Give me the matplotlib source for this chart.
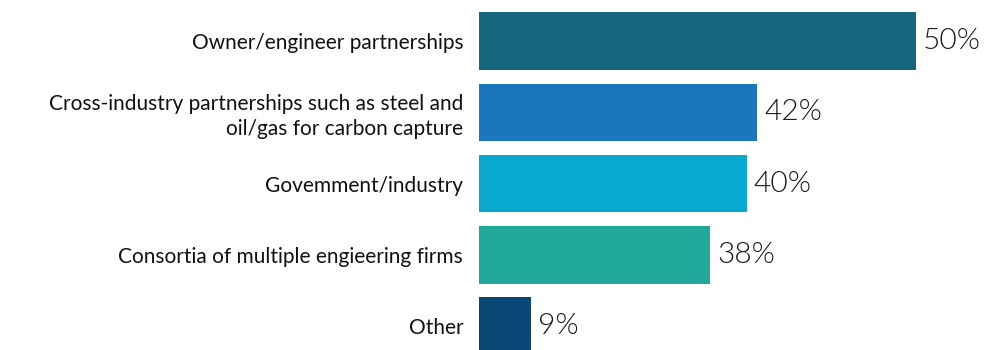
import matplotlib
matplotlib.use('Agg')
import matplotlib.pyplot as plt

plt.rcParams['font.family'] = ['Lato', 'DejaVu Sans']

categories = ['Owner/engineer partnerships',
              'Cross-industry partnerships such as steel and\noil/gas for carbon capture',
              'Govemment/industry',
              'Consortia of multiple engieering firms',
              'Other']
# bar lengths as drawn in the picture (they don't follow the printed labels)
bar_values = [50, 31.9, 30.7, 26.5, 6.0]
value_labels = ['50%', '42%', '40%', '38%', '9%']
colors = ['#16677d', '#1a77bd', '#08a8cf', '#20a89a', '#0b4775']

fig = plt.figure(figsize=(9.9, 3.5), dpi=100)
ax = fig.add_axes([478.5 / 990, 0, 1 - 478.5 / 990, 1])

ypos = list(range(len(categories)))
ax.barh(ypos, bar_values, height=0.806, color=colors)
for y, v, lab in zip(ypos, bar_values, value_labels):
    ax.annotate(lab, (v, y), xytext=(5, 0), textcoords='offset points',
                va='center', ha='left', fontsize=21.5, fontweight=300, color='#1a1a1a')

ax.set_xlim(0, 50 * 511.5 / 437.2)
ax.set_ylim(4.334, -0.575)
ax.set_yticks(ypos)
ax.set_yticklabels(categories, fontsize=15, color='#111111', linespacing=1.3)
ax.tick_params(axis='y', length=0, pad=11)
ax.set_xticks([])
for s in ax.spines.values():
    s.set_visible(False)

fig.savefig('out.png', dpi=100)
